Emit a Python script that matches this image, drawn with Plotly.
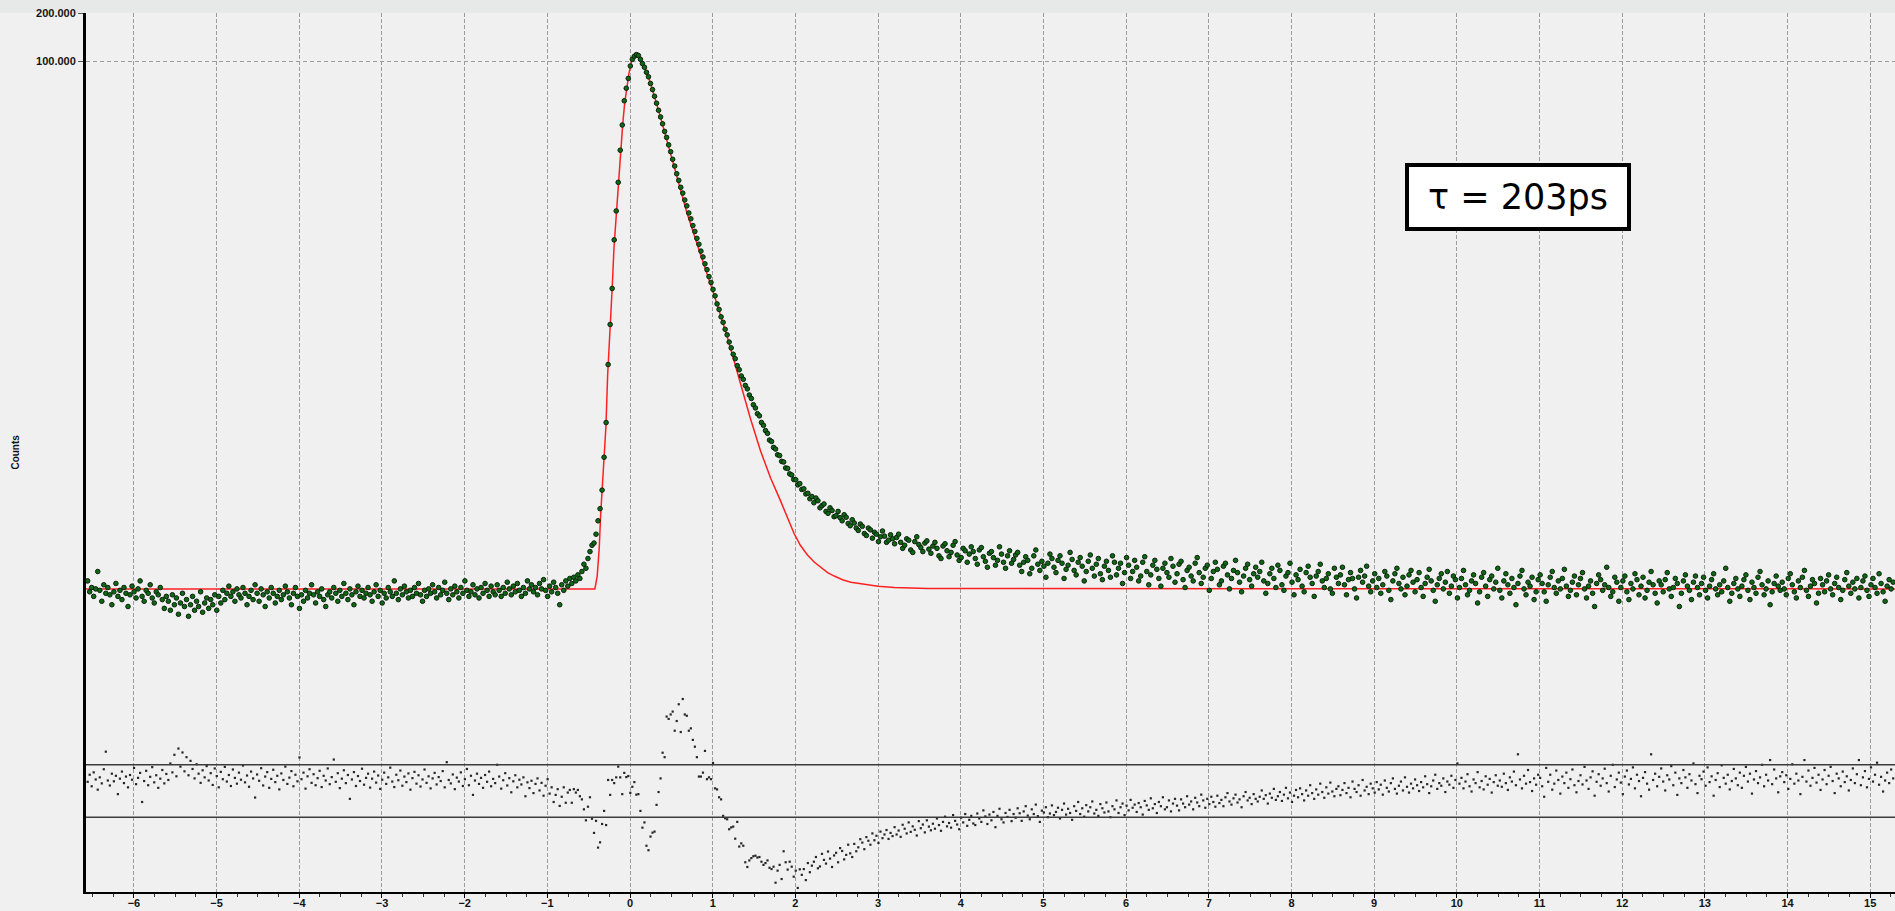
import plotly.graph_objects as go

# ---- time channels (ns) ----
T0 = -6.56
DT = 0.0244

# ---- measured counts (decay), split in three parts ----
counts_pre = [
    55, 47, 50, 44, 49, 63, 48, 41, 52, 46, 50, 45, 39, 47, 53, 44, 48, 42, 50, 46,
    38, 45, 51, 47, 43, 49, 55, 44, 41, 48, 46, 52, 43, 40, 47, 45, 50, 42, 37, 44,
    41, 36, 45, 39, 43, 34, 40, 46, 38, 42, 33, 39, 44, 36, 41, 38, 47, 35, 40, 43,
    37, 42, 39, 45, 36, 44, 40, 48, 42, 46, 51, 44, 47, 41, 49, 45, 43, 50, 46, 39,
    44, 48, 42, 52, 46, 41, 49, 45, 38, 47, 43, 50, 46, 40, 44, 48, 42, 45, 51, 47,
    43, 39, 46, 50, 44, 37, 45, 41, 48, 43, 46, 52, 45, 40, 47, 44, 49, 42, 38, 45,
    47, 43, 50, 46, 41, 48, 44, 53, 46, 42, 49, 45, 39, 47, 51, 44, 48, 43, 46, 50,
    45, 41, 47, 52, 44, 48, 40, 46, 43, 50, 47, 44, 55, 46, 42, 49, 45, 51, 47, 43,
    48, 44, 50, 46, 53, 45, 41, 48, 44, 49, 46, 52, 47, 43, 50, 45, 48, 54, 46, 42,
    49, 45, 51, 47, 43, 50, 46, 55, 48, 44, 47, 52, 45, 49, 43, 50, 46, 53, 48, 44,
    51, 47, 45, 52, 48, 44, 50, 46, 54, 49, 45, 51, 47, 53, 48, 44, 50, 46, 55, 49,
    52, 47, 50, 45, 53, 49, 56, 48, 44, 51, 47, 54, 50, 46, 39, 52, 48, 55, 51, 57,
    53, 58, 55, 60, 57,
]
counts_peak = [
    63, 70, 66, 76, 84, 92, 95, 108, 131, 156,
    204, 328, 541, 1250, 2230, 3750, 7560, 11480, 17350, 27600,
    39700, 56300, 67500, 77800, 93100, 102500, 107000, 109700, 108300, 102500,
    96400, 91400, 85000, 79600, 72300, 66200, 60100, 54400, 49100, 44600,
    40400, 36200, 33200, 29800, 27000, 24200, 21950, 19650, 17850, 16150,
    14850, 13450, 12350, 11150, 10250, 9300, 8540, 7730, 7100, 6430,
    5910, 5350, 4920, 4450, 4090, 3700, 3370, 3000, 2770, 2490,
    2300, 2080, 1920, 1730, 1590, 1450, 1360, 1230, 1160, 1060,
    1010, 925, 880, 805, 766, 700, 668, 615, 596, 542,
    520, 482, 463, 420, 412, 378, 369, 340, 336, 309,
    306, 281, 279, 258, 254, 238, 237, 220, 224, 206,
    208, 193, 195, 180, 186,
]
counts_tail = [
    170, 182, 175, 158, 163, 167, 150, 146, 158, 152, 139, 141, 150, 137, 131, 143, 138, 126, 122, 133,
    127, 118, 114, 125, 121, 109, 106, 118, 115, 102, 111, 108, 97, 104, 113, 105, 96, 99, 107, 101,
    94, 103, 108, 96, 88, 92, 101, 99, 86, 83, 97, 104, 93, 89, 84, 95, 98, 87, 82, 91,
    96, 88, 79, 76, 91, 94, 85, 78, 83, 92, 97, 80, 74, 77, 88, 85, 72, 81, 90, 84,
    76, 70, 86, 89, 78, 73, 67, 82, 84, 77, 69, 74, 90, 81, 72, 66, 79, 85, 71, 75,
    80, 83, 69, 63, 72, 78, 74, 61, 66, 79, 86, 70, 64, 73, 68, 58, 71, 81, 76, 67,
    62, 74, 79, 71, 57, 65, 69, 83, 75, 64, 60, 72, 77, 68, 55, 63, 73, 80, 66, 59,
    70, 76, 61, 56, 68, 73, 64, 58, 79, 72, 60, 66, 71, 53, 62, 77, 69, 57, 63, 74,
    67, 55, 59, 72, 78, 63, 52, 60, 69, 74, 65, 57, 51, 66, 71, 62, 58, 76, 68, 54,
    61, 70, 73, 56, 50, 64, 67, 59, 55, 71, 77, 62, 53, 58, 66, 69, 48, 57, 63, 72,
    65, 52, 55, 68, 71, 60, 49, 57, 64, 74, 62, 54, 47, 59, 66, 70, 56, 51, 61, 67,
    58, 63, 72, 55, 46, 53, 61, 66, 57, 50, 69, 64, 52, 48, 59, 62, 71, 54, 45, 60,
    56, 65, 51, 47, 62, 68, 58, 53, 44, 59, 63, 70, 55, 50, 57, 61, 49, 46, 66, 58,
    53, 60, 67, 52, 45, 56, 62, 57, 49, 43, 58, 64, 54, 59, 68, 51, 47, 55, 61, 50,
    57, 46, 52, 63, 59, 48, 42, 55, 61, 66, 53, 49, 58, 45, 51, 60, 64, 54, 47, 56,
    62, 50, 44, 53, 58, 65, 55, 48, 41, 52, 57, 61, 49, 54, 63, 46, 51, 59, 56, 43,
    50, 57, 64, 52, 45, 48, 55, 60, 53, 40, 47, 58, 62, 51, 44, 56, 59, 49, 54, 66,
    48, 43, 55, 61, 52, 46, 57, 50, 39, 53, 59, 64, 49, 45, 54, 51, 58, 42, 47, 56,
    60, 53, 47, 41, 52, 58, 63, 50, 46, 55, 49, 57, 65, 51, 44, 48, 54, 59, 45, 52,
    57, 62, 49, 43, 51, 55, 46, 38, 53, 60, 56, 48, 52, 67, 50, 44, 47, 58, 54, 41,
    50, 55, 59, 47, 42, 53, 49, 61, 56, 45, 51, 58, 43, 48, 54, 63, 52, 46, 40, 55,
    52, 47, 56, 62, 49, 44, 50, 57, 53, 38, 46, 55, 60, 51, 48, 42, 54, 59, 50, 45,
    53, 58, 48, 43, 51, 56, 61, 49, 45, 52, 47, 55, 66, 50, 41, 46, 53, 57, 49, 44,
    51, 56, 60, 48, 42, 54, 50, 46, 58, 63, 52, 45, 49, 55, 39, 47, 53, 59, 51, 48,
    54, 49, 45, 57, 61, 52, 47, 43, 55, 50, 58, 64, 48, 44, 51, 56, 53, 40, 46, 57,
    52, 47, 55, 60, 49, 45, 53, 58, 50, 42, 48, 56, 62, 51, 46, 54, 49, 57, 43, 50,
    55, 59, 48, 44, 52, 57, 50, 46, 61, 53, 47, 41, 51, 56, 49, 54,
]

# ---- weighted residuals (same channels) ----
resid_pre = [
    0.35, 0.62, 0.18, 0.71, 0.44, 0.05, 0.52, 0.29, 0.83, 1.50, 0.40, 0.21, 0.66, 0.37, 0.58, -0.12, 0.47, 0.74, 0.30, 0.55,
    0.14, 0.61, 0.43, 0.88, 0.26, 0.50, 0.69, -0.42, 0.38, 0.77, 0.22, 0.54, 0.91, 0.33, 0.60, 0.12, 0.47, 0.80, 0.29, 0.65,
    0.42, 1.05, 0.71, 1.38, 0.56, 1.62, 0.93, 1.47, 0.75, 1.29, 0.60, 1.15, 0.84, 0.48, 1.02, 0.66, 0.31, 0.79, 0.52, 0.95,
    0.40, 0.68, 0.23, 0.86, 0.57, 0.14, 0.73, 0.45, 0.92, 0.36, 0.61, 0.19, 0.82, 0.50, 0.28, 0.70, 0.43, 0.97, 0.33, 0.59,
    0.16, 0.74, 0.48, -0.25, 0.63, 0.39, 0.87, 0.21, 0.55, 0.72, 0.12, 0.46, 0.81, 0.34, 0.58, 0.06, 0.67, 0.42, 0.93, 0.27,
    0.51, 0.76, 0.18, 0.62, 0.37, 1.28, 0.45, 0.70, 0.09, 0.56, 0.83, 0.31, 0.64, 0.22, 0.49, 0.77, 0.15, 0.58, 0.40, 0.86,
    0.26, 0.53, 1.20, 0.35, 0.68, 0.11, 0.47, 0.79, 0.30, 0.61, -0.30, 0.44, 0.72, 0.19, 0.57, 0.38, 0.85, 0.24, 0.50, 0.66,
    0.13, 0.47, 0.74, 0.32, 0.59, 0.08, 0.43, 0.70, 0.27, 0.52, 0.89, 0.36, 0.15, 0.62, 0.41, 0.78, 0.20, 0.55, 0.34, 0.67,
    0.05, 0.49, 0.73, 0.28, 0.60, 0.17, 0.44, 0.82, 0.31, 0.56, 0.10, 0.48, 0.69, 0.25, 0.53, 0.38, 0.76, 0.14, 1.10, 0.42,
    0.29, 0.63, 0.07, 0.51, 0.36, 0.71, 0.19, 0.45, 0.84, 0.22, 0.58, -0.15, 0.40, 0.66, 0.27, 0.50, 0.12, 0.61, 0.35, 0.74,
    0.18, 0.46, 0.30, 1.00, 0.55, 0.09, 0.41, 0.68, 0.21, 0.49, -0.05, 0.37, 0.60, 0.14, 0.43, 0.25, 0.52, -0.20, 0.33, 0.11,
    0.39, -0.08, 0.27, 0.48, 0.02, 0.31, -0.18, 0.20, 0.45, -0.10, 0.14, -0.42, -0.15, 0.07, -0.57, -0.22, 0.14, -0.45, -0.06, 0.04,
]
resid_peak = [
    -0.45, 0.07, -0.06, 0.04, -0.20, -0.32, -0.70, -1.12, -0.60, -0.24, -1.06, -1.60, -1.14, -2.16, -1.96, -1.26, -0.76, -1.30, 0.42, -0.15,
    0.42, 0.30, 0.52, 0.93, 0.52, -0.12, 0.69, 0.53, 0.57, -0.07, 0.16, 0.34, -0.14, -0.12, -0.76, -1.40, -1.20, -2.09, -2.26, -1.74,
    -1.59, -1.55, -0.53, -0.04, 0.48, 1.46, 1.29, 2.84, 2.75, 2.92, 3.03, 2.30, 2.67, 3.31, 2.25, 3.51, 2.92, 2.87, 2.30, 2.39,
    1.95, 1.69, 1.29, 0.55, 0.55, 0.70, 1.53, 0.45, 0.52, 0.45, 1.07, 0.10, 0.06, -0.24, -0.32, -0.95, -1.04, -1.08, -1.46, -1.39,
    -1.36, -1.82, -1.18, -2.12, -2.00, -2.09, -2.72, -2.90, -2.65, -2.56, -2.49, -2.47, -2.54, -2.52, -2.70, -2.82, -2.75, -2.65, -2.93, -2.98,
    -2.89, -3.50, -3.04, -2.82, -3.36, -2.30, -2.72, -3.00, -2.70, -2.89, -3.27, -3.04, -3.70, -2.99, -3.20, -2.98, -3.40, -2.75, -3.10, -2.85,
]
resid_tail = [
    -2.70, -2.52, -2.95, -2.88, -2.40, -2.63, -2.77, -2.31, -2.58, -2.90, -2.46, -2.36, -2.72, -2.18, -2.29, -2.61, -2.44, -2.05, -2.38, -2.52,
    -2.02, -2.30, -2.15, -1.84, -1.97, -2.22, -1.76, -1.90, -2.05, -1.62, -1.88, -1.71, -1.98, -1.55, -1.80, -1.66, -1.49, -1.83, -1.60, -1.72,
    -1.38, -1.66, -1.51, -1.75, -1.29, -1.44, -1.62, -1.20, -1.56, -1.35, -1.48, -1.70, -1.15, -1.42, -1.28, -1.58, -1.12, -1.36, -1.50, -1.25,
    -1.44, -1.05, -1.30, -1.52, -1.18, -0.98, -1.35, -1.22, -1.40, -0.92, -1.14, -1.28, -1.46, -1.02, -1.20, -0.88, -1.33, -1.10, -0.95, -1.24,
    -1.30, -0.86, -1.05, -1.18, -0.74, -0.97, -1.26, -0.90, -1.12, -0.80, -1.38, -0.95, -0.68, -1.08, -1.20, -0.84, -0.99, -0.72, -1.15, -0.88,
    -1.02, -0.66, -0.85, -1.14, -0.78, -0.58, -0.94, -1.08, -0.70, -0.88, -0.52, -0.96, -1.18, -0.75, -0.82, -0.62, -1.00, -0.86, -0.55, -0.92,
    -0.80, -0.64, -1.05, -0.72, -0.48, -0.90, -0.68, -0.84, -1.10, -0.58, -0.76, -0.42, -0.88, -0.66, -0.98, -0.54, -0.78, -0.62, -0.40, -0.86,
    -0.72, -0.95, -0.50, -0.66, -0.82, -0.44, -0.78, -1.00, -0.58, -0.70, -0.36, -0.84, -0.62, -0.48, -0.92, -0.56, -0.74, -0.34, -0.64, -0.52,
    -0.80, -0.46, -0.62, -0.90, -0.38, -0.55, -0.72, -0.28, -0.66, -0.50, -0.84, -0.42, -0.58, -0.24, -0.70, -0.62, -0.36, -0.78, -0.48, -0.30,
    -0.56, -0.74, -0.32, -0.48, -0.62, -0.20, -0.52, -0.40, -0.70, -0.26, -0.44, -0.58, -0.14, -0.36, -0.64, -0.30, -0.50, -0.22, -0.42, -0.60,
    -0.18, -0.46, -0.34, -0.58, -0.24, -0.08, -0.40, -0.52, -0.28, -0.14, -0.44, -0.32, -0.62, -0.20, -0.04, -0.36, -0.26, -0.50, -0.12, -0.30,
    -0.40, -0.22, 0.02, -0.30, -0.16, -0.48, -0.10, -0.26, 0.08, -0.34, -0.20, -0.04, -0.38, -0.14, 0.12, -0.28, -0.06, -0.42, -0.18, 0.04,
    -0.24, 0.10, -0.12, -0.36, 0.02, -0.18, 0.22, -0.08, -0.30, 0.06, -0.14, 0.28, -0.04, -0.26, 0.14, -0.10, 0.32, -0.02, -0.20, 0.08,
    0.18, -0.16, 0.04, 0.30, -0.08, 0.12, -0.24, 0.36, 0.08, -0.04, 0.22, -0.18, 0.42, 0.02, 0.16, -0.12, 0.28, 0.10, -0.06, 0.34,
    0.06, 0.24, -0.14, 0.40, 0.12, -0.02, 0.30, 0.48, 0.08, -0.10, 0.20, 0.36, 0.02, 0.52, 0.16, -0.06, 0.28, 0.10, 0.44, 0.22,
    0.00, 0.34, 0.14, 0.56, 0.26, -0.08, 0.18, 0.40, 0.62, 0.08, 0.30, 0.20, 0.48, -0.04, 0.36, 0.24, 0.58, 0.12, 0.42, 1.05,
    0.28, 0.50, 0.10, 0.36, 0.64, 0.18, -0.02, 0.44, 0.30, 0.72, 0.14, 0.38, 0.06, 0.56, 0.24, 0.46, -0.06, 0.34, 0.60, 0.20,
    0.40, 0.16, 0.66, 0.30, 0.04, 0.52, 0.36, 0.74, 0.22, 1.40, 0.44, 0.10, 0.58, 0.28, 0.80, 0.34, 0.00, 0.48, 0.24, 0.62,
    0.50, 0.18, -0.22, 0.88, 0.35, 0.62, 0.05, 0.28, 0.78, 0.42, -0.10, 0.55, 0.30, 0.70, 0.12, 0.45, 0.82, 0.22, -0.05, 0.38,
    0.60, 0.25, 0.92, 0.40, 0.08, 0.52, 0.75, -0.18, 0.35, 0.64, 0.20, 0.48, 0.85, 0.30, -0.02, 0.58, 1.00, 0.15, 0.44, 0.70,
    0.32, -0.12, 0.55, 0.78, 0.25, 0.46, 0.90, 0.10, 0.62, 0.38, -0.20, 0.50, 0.72, 0.28, 0.05, 1.40, 0.42, 0.66, 0.18, 0.54,
    0.86, 0.36, 0.02, 0.60, 0.44, 0.95, 0.22, 0.70, -0.15, 0.48, 0.30, 0.80, 0.52, 0.12, 0.64, 0.40, 1.05, 0.26, -0.08, 0.58,
    0.45, 0.74, 0.20, 0.90, 0.34, 0.56, -0.18, 0.42, 0.68, 0.15, 0.98, 0.50, 0.28, 0.62, 0.06, 0.38, 0.84, 0.48, 0.22, 0.70,
    0.12, 0.58, 0.92, 0.36, 0.66, -0.10, 0.44, 0.76, 0.30, 0.52, 1.00, 0.18, 0.62, 0.40, 1.18, 0.26, 0.82, 0.48, -0.05, 0.56,
    0.72, 0.34, 0.60, 0.08, 0.46, 1.02, 0.28, 0.66, 0.40, -0.12, 0.54, 1.18, 0.36, 0.78, 0.20, 0.50, 0.88, 0.32, 0.62, 0.04,
    0.44, 0.80, 0.26, 0.58, 0.92, 0.38, -0.08, 0.66, 0.48, 0.18, 0.74, 0.34, 0.56, 0.02, 0.42, 0.86, 0.30, 0.64, 1.18, 0.22,
    0.52, 0.76, 0.14, 0.46, 0.90, 0.36, 0.62, 1.08, 0.24, 0.54, -0.02, 0.40, 0.70, 0.30, 0.82, 0.48,
]

# ---- fitted model curve ----
fit_t = [-6.58, -0.425, -0.397, -0.372, -0.356, -0.340, -0.320, -0.291, -0.271, -0.243,
         -0.215, -0.194, -0.162, -0.138, -0.113, -0.089, -0.065, -0.040, -0.012, 0.016,
         0.049, 0.081, 0.113, 0.162, 0.243, 0.364, 0.526, 0.688, 0.850, 1.012,
         1.174, 1.336, 1.457, 1.579, 1.700, 1.822, 1.900, 1.984, 2.060, 2.146,
         2.230, 2.308, 2.390, 2.470, 2.570, 2.672, 2.770, 2.874, 3.000, 3.198,
         3.600, 15.30]
fit_counts = [49, 49, 59, 89, 141, 193, 292, 515, 1064, 1930,
              3840, 6740, 11600, 18500, 28000, 39800, 54200, 69500, 84100, 98400,
              106400, 108600, 105300, 94900, 74000, 45300, 22500, 11200, 6180, 3490,
              1880, 960, 572, 359, 243, 174, 139, 109, 92, 80,
              72, 67, 62, 59, 56, 54, 53, 52, 51, 50,
              49.3, 49]

# ---- axes text ----
x_range = [-6.58, 15.30]
y_log_range = [-0.210, 5.30103]
y_tick_vals = [100000, 200000]
y_tick_text = ["100.000", "200.000"]
resid_range = [-3.855, 29.69]
resid_limits = [-1, 1]
tau_label = "τ = 203ps"
y_title = "Counts"

counts = counts_pre + counts_peak + counts_tail
resid = resid_pre + resid_peak + resid_tail
if len(counts) != 896 or len(resid) != 896:
    raise SystemExit(f"length mismatch counts={len(counts)} resid={len(resid)} "
                     f"pre={len(counts_pre)} peak={len(counts_peak)} tail={len(counts_tail)} "
                     f"rp={len(resid_pre)} rk={len(resid_peak)} rt={len(resid_tail)}")

BG = "#f0f0f0"
GRID = "#9c9c9c"
TICKFONT = dict(family="Liberation Sans, Arial, sans-serif", size=11, color="#141414", weight="bold")

fig = go.Figure()
fig.add_trace(go.Scatter(
    x=fit_t, y=fit_counts, mode="lines",
    line=dict(color="#ff2020", width=1.5), hoverinfo="skip"))
fig.add_trace(go.Scatter(
    x0=T0, dx=DT, y=counts, mode="markers",
    marker=dict(symbol="circle", size=4.6, color="#0b6a12",
                line=dict(color="#0f1f0f", width=1))))
fig.add_trace(go.Scatter(
    x0=T0, dx=DT, y=resid, mode="markers", yaxis="y2",
    marker=dict(symbol="square", size=2.2, color="#262626", line=dict(width=0))))

shapes = []
for lim in resid_limits:
    shapes.append(dict(type="line", xref="paper", x0=0, x1=1, yref="y2", y0=lim, y1=lim,
                       line=dict(color="#3c3c3c", width=1.5), layer="above"))
shapes.append(dict(type="rect", xref="paper", x0=-0.06, x1=1.0, yref="paper",
                   y0=1.0, y1=1.02, fillcolor="#e6e9e7", line=dict(width=0), layer="below"))

fig.update_layout(
    width=1895, height=911,
    margin=dict(l=86, r=0, t=13, b=19),
    paper_bgcolor=BG, plot_bgcolor=BG,
    showlegend=False, hovermode=False,
    xaxis=dict(
        range=x_range, tickmode="linear", tick0=0, dtick=1,
        showgrid=True, gridcolor=GRID, gridwidth=1, griddash="4px,2px",
        zeroline=False, showline=True, linecolor="#000000", linewidth=2,
        ticks="outside", ticklen=4, tickwidth=1, tickcolor="#000000",
        ticklabelstandoff=-4,
        minor=dict(dtick=0.25, ticks="outside", ticklen=3, tickcolor="#333333", showgrid=False),
        tickfont=TICKFONT, automargin=False),
    yaxis=dict(
        type="log", range=y_log_range,
        tickmode="array", tickvals=y_tick_vals, ticktext=y_tick_text,
        showgrid=True, gridcolor=GRID, gridwidth=1, griddash="4px,3px",
        zeroline=False, showline=True, linecolor="#000000", linewidth=3,
        ticks="outside", ticklen=5, tickwidth=1, tickcolor="#555555",
        tickfont=TICKFONT, automargin=False),
    yaxis2=dict(overlaying="y", range=resid_range, visible=False,
                showgrid=False, zeroline=False),
    shapes=shapes,
    annotations=[
        dict(text=tau_label, xref="paper", yref="paper", x=0.7916, y=0.7907,
             xanchor="center", yanchor="middle", showarrow=False,
             font=dict(family="DejaVu Sans, sans-serif", size=35, color="#000000"),
             bgcolor="#ffffff", bordercolor="#000000", borderwidth=4, borderpad=6,
             width=206, height=48),
        dict(text=y_title, xref="paper", yref="paper", x=-0.0392, y=0.5,
             xanchor="center", yanchor="middle", showarrow=False, textangle=-90,
             font=dict(family="Liberation Sans, Arial, sans-serif", size=10,
                       color="#141414", weight="bold")),
    ],
)

fig.write_html("out.html")
